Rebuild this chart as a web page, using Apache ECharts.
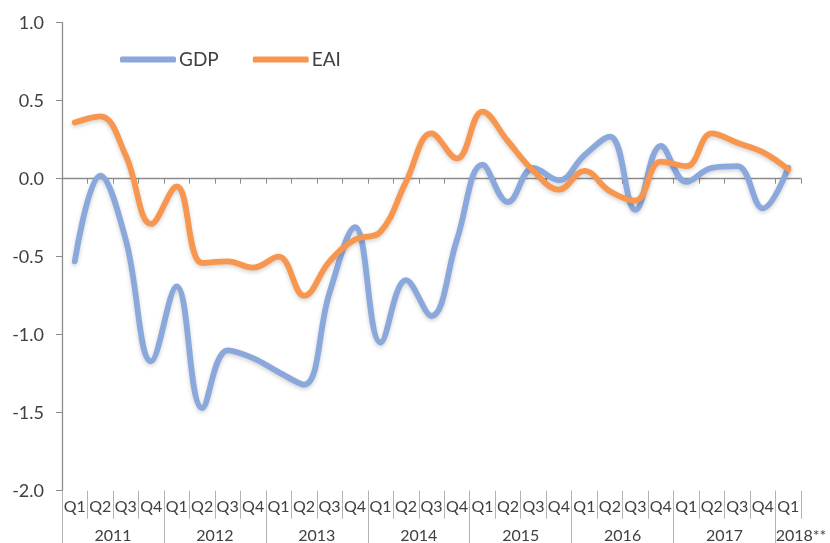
<!DOCTYPE html>
<html>
<head>
<meta charset="utf-8">
<script src="https://cdn.jsdelivr.net/npm/echarts@6/dist/echarts.min.js"></script>
<style>
  html, body { margin: 0; padding: 0; background: #fff; }
  #chart { width: 830px; height: 543px; }
</style>
</head>
<body>
<div id="chart"></div>
<script>
// Quarterly categories, Q1 2011 .. Q1 2018
var quarters = [
  'Q1','Q2','Q3','Q4', 'Q1','Q2','Q3','Q4', 'Q1','Q2','Q3','Q4',
  'Q1','Q2','Q3','Q4', 'Q1','Q2','Q3','Q4', 'Q1','Q2','Q3','Q4',
  'Q1','Q2','Q3','Q4', 'Q1'
];
var years = ['2011', '2012', '2013', '2014', '2015', '2016', '2017', '2018**'];

var gdp = [
  -0.53, 0.02, -0.39, -1.17, -0.69, -1.47, -1.10, -1.15, -1.24, -1.32,
  -0.73, -0.31, -1.05, -0.65, -0.88, -0.39, 0.09, -0.15, 0.07, -0.01,
  0.15, 0.27, -0.20, 0.21, -0.02, 0.07, 0.08, -0.19, 0.07
];
var eai = [
  0.36, 0.40, 0.15, -0.29, -0.05, -0.54, -0.53, -0.57, -0.50, -0.75,
  -0.53, -0.39, -0.34, -0.02, 0.29, 0.13, 0.43, 0.24, 0.05, -0.07,
  0.05, -0.08, -0.14, 0.11, 0.08, 0.29, 0.23, 0.17, 0.06
];

var yTicks = { min: -2, max: 1, step: 0.5 };

// Year row: one slot per quarter boundary (0..n); a full year is labelled
// at its middle boundary, the trailing partial year at the right end.
var n = quarters.length;
var yearSlots = [];
for (var i = 0; i <= n; i++) yearSlots.push('');
years.forEach(function (y, k) {
  var start = k * 4, end = Math.min(start + 4, n);
  var pos = (end - start === 4) ? start + 2 : end;
  yearSlots[pos] = y;
});

var FONT = 'Lato, "Open Sans", sans-serif';
var TEXT = '#404040';
var AXIS = '#8c8c8c';

var chart = echarts.init(document.getElementById('chart'), null, { renderer: 'canvas' });

chart.setOption({
  animation: false,
  backgroundColor: '#ffffff',
  grid: {
    left: 62, right: 29, top: 22.7, bottom: 52.3,
    containLabel: false,
    outerBoundsMode: 'none'
  },
  legend: {
    left: 120, top: 50, padding: 0,
    itemWidth: 56, itemHeight: 6, itemGap: 34,
    icon: 'roundRect',
    textStyle: { fontFamily: FONT, fontSize: 19, color: TEXT, padding: [0, 0, 0, -2] },
    data: ['GDP', 'EAI']
  },
  xAxis: [
    {
      // category axis drawn through zero
      type: 'category', data: quarters, boundaryGap: true,
      axisLine: { show: true, onZero: true, lineStyle: { color: AXIS, width: 1.3 } },
      axisTick: { show: true, interval: 0, length: 5, lineStyle: { color: AXIS } },
      axisLabel: { show: false }
    },
    {
      // quarter labels at the bottom
      type: 'category', data: quarters, boundaryGap: true, position: 'bottom',
      axisLine: { show: false, onZero: false },
      axisTick: { show: true, interval: 0, length: 28, lineStyle: { color: '#b3b3b3' } },
      axisLabel: { interval: 0, margin: 8, fontFamily: FONT, fontSize: 16, color: TEXT }
    },
    {
      // year labels and year separators
      type: 'category', data: yearSlots, boundaryGap: false, position: 'bottom',
      axisLine: { show: false, onZero: false },
      axisTick: {
        show: true, length: 53, lineStyle: { color: '#b3b3b3' },
        interval: function (idx) { return idx % 4 === 0 && idx < n; }
      },
      axisLabel: {
        margin: 37, fontFamily: FONT, fontSize: 16, color: TEXT,
        interval: function (idx, val) { return val !== ''; }
      }
    }
  ],
  yAxis: {
    type: 'value', min: yTicks.min, max: yTicks.max, interval: yTicks.step,
    axisLine: { show: true, lineStyle: { color: AXIS, width: 1.3 } },
    axisTick: { show: true, length: 6, lineStyle: { color: AXIS } },
    splitLine: { show: false },
    axisLabel: {
      margin: 18, fontFamily: FONT, fontSize: 18, color: TEXT,
      formatter: function (v) { return v.toFixed(1); }
    }
  },
  series: [
    {
      name: 'GDP', type: 'line', data: gdp, xAxisIndex: 0,
      smooth: 0.4, showSymbol: false, symbol: 'none',
      itemStyle: { color: '#8aa8dc' },
      lineStyle: {
        color: '#8aa8dc', width: 5.8, cap: 'round', join: 'round',
        shadowColor: 'rgba(0,0,0,0.18)', shadowBlur: 4, shadowOffsetY: 2
      }
    },
    {
      name: 'EAI', type: 'line', data: eai, xAxisIndex: 0,
      smooth: 0.4, showSymbol: false, symbol: 'none',
      itemStyle: { color: '#f7964f' },
      lineStyle: {
        color: '#f7964f', width: 5.8, cap: 'round', join: 'round',
        shadowColor: 'rgba(0,0,0,0.18)', shadowBlur: 4, shadowOffsetY: 2
      }
    }
  ]
});
</script>
</body>
</html>
